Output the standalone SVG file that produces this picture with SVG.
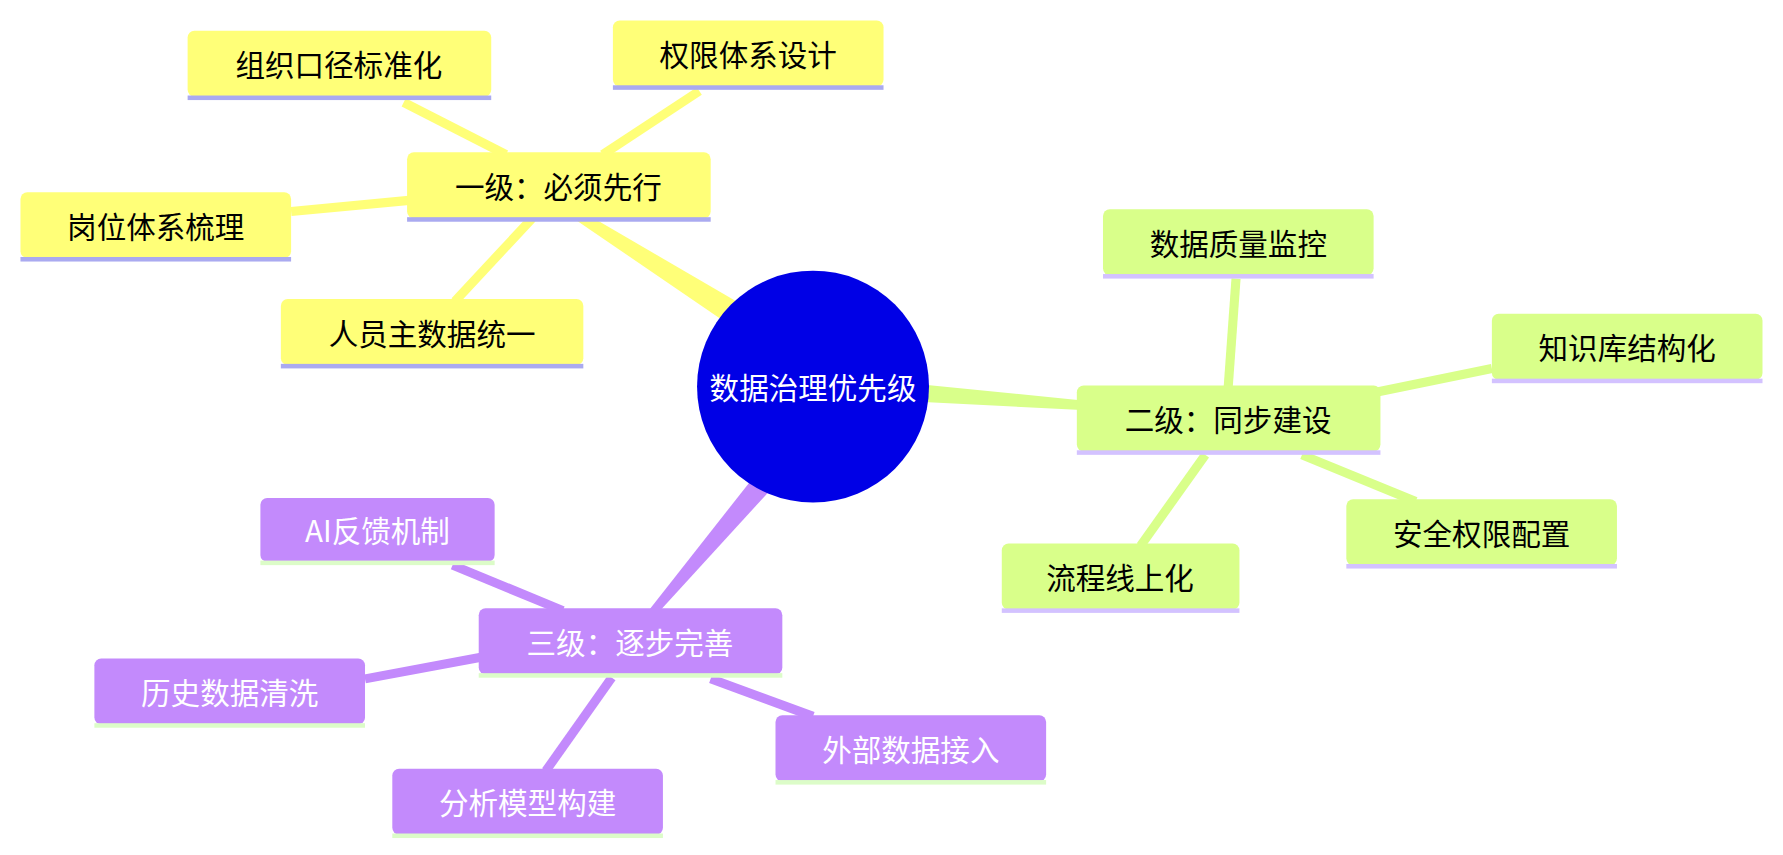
<svg xmlns="http://www.w3.org/2000/svg" width="1783" height="855" viewBox="0 0 1783 855">
<style>
text{font-family:"Noto Sans CJK SC","Liberation Sans",sans-serif;font-size:26px;text-anchor:middle;dominant-baseline:central}
.y{fill:#ffff78}.g{fill:#d9ff8a}.p{fill:#c38afc}
.uy{fill:#aaaaf0}.ug{fill:#d3c2ff}.up{fill:#dcfcc8}
.ly{stroke:#ffff78;stroke-width:8}.lg{stroke:#d9ff8a;stroke-width:8}.lp{stroke:#c38afc;stroke-width:8}
.tw{fill:#fff}
</style>
<rect width="1783" height="855" fill="#fff"/>
<g transform="scale(1.1371)">
<g id="connectors">
<polygon points="665.9,275.7 471.6,162.5 468.4,167.5 654.1,294.3" fill="#ffff78"/>
<polygon points="760,333 1000,357 1000,363 760,351" fill="#d9ff8a"/>
<polygon points="708.4,397.1 562.3,556.9 557.7,553.1 691.6,382.9" fill="#c38afc"/>
<line class="ly" x1="355" y1="90" x2="445" y2="136"/>
<line class="ly" x1="615" y1="80" x2="530" y2="136"/>
<line class="ly" x1="256" y1="186" x2="362" y2="176"/>
<line class="ly" x1="400" y1="265" x2="468" y2="192"/>
<line class="lg" x1="1087" y1="245" x2="1080" y2="342"/>
<line class="lg" x1="1312" y1="324" x2="1210" y2="345"/>
<line class="lg" x1="1245" y1="441" x2="1145" y2="400"/>
<line class="lg" x1="1003" y1="480" x2="1060" y2="400"/>
<line class="lp" x1="398" y1="497" x2="495" y2="537"/>
<line class="lp" x1="321" y1="597" x2="423" y2="578"/>
<line class="lp" x1="715" y1="630" x2="625" y2="597"/>
<line class="lp" x1="480" y1="678" x2="538" y2="596"/>
</g>
<g id="center"><circle cx="715" cy="340" r="102" fill="#0000e6"/><text x="715" y="340" class="tw">数据治理优先级</text></g>
<g id="l1"><rect class="y" x="358" y="134" width="267" height="58" rx="6"/><rect class="uy" x="358" y="191" width="267" height="4"/><text x="491" y="163">一级：必须先行</text></g>
<g id="l1a"><rect class="y" x="165" y="27" width="267" height="58" rx="6"/><rect class="uy" x="165" y="84" width="267" height="4"/><text x="298" y="56">组织口径标准化</text></g>
<g id="l1b"><rect class="y" x="539" y="18" width="238" height="58" rx="6"/><rect class="uy" x="539" y="75" width="238" height="4"/><text x="658" y="47">权限体系设计</text></g>
<g id="l1c"><rect class="y" x="18" y="169" width="238" height="58" rx="6"/><rect class="uy" x="18" y="226" width="238" height="4"/><text x="137" y="198">岗位体系梳理</text></g>
<g id="l1d"><rect class="y" x="247" y="263" width="266" height="58" rx="6"/><rect class="uy" x="247" y="320" width="266" height="4"/><text x="380" y="292">人员主数据统一</text></g>
<g id="l2"><rect class="g" x="947" y="339" width="267" height="58" rx="6"/><rect class="ug" x="947" y="396" width="267" height="4"/><text x="1080" y="368">二级：同步建设</text></g>
<g id="l2a"><rect class="g" x="970" y="184" width="238" height="58" rx="6"/><rect class="ug" x="970" y="241" width="238" height="4"/><text x="1089" y="213">数据质量监控</text></g>
<g id="l2b"><rect class="g" x="1312" y="276" width="238" height="58" rx="6"/><rect class="ug" x="1312" y="333" width="238" height="4"/><text x="1431" y="305">知识库结构化</text></g>
<g id="l2c"><rect class="g" x="1184" y="439" width="238" height="58" rx="6"/><rect class="ug" x="1184" y="496" width="238" height="4"/><text x="1303" y="468">安全权限配置</text></g>
<g id="l2d"><rect class="g" x="881" y="478" width="209" height="58" rx="6"/><rect class="ug" x="881" y="535" width="209" height="4"/><text x="985" y="507">流程线上化</text></g>
<g id="l3"><rect class="p" x="421" y="535" width="267" height="58" rx="6"/><rect class="up" x="421" y="592" width="267" height="4"/><text x="554" y="564" class="tw">三级：逐步完善</text></g>
<g id="l3a"><rect class="p" x="229" y="438" width="206" height="56" rx="6"/><rect class="up" x="229" y="493" width="206" height="4"/><text x="332" y="466" class="tw">AI反馈机制</text></g>
<g id="l3b"><rect class="p" x="83" y="579" width="238" height="58" rx="6"/><rect class="up" x="83" y="636" width="238" height="4"/><text x="202" y="608" class="tw">历史数据清洗</text></g>
<g id="l3c"><rect class="p" x="682" y="629" width="238" height="58" rx="6"/><rect class="up" x="682" y="686" width="238" height="4"/><text x="801" y="658" class="tw">外部数据接入</text></g>
<g id="l3d"><rect class="p" x="345" y="676" width="238" height="58" rx="6"/><rect class="up" x="345" y="733" width="238" height="4"/><text x="464" y="705" class="tw">分析模型构建</text></g>
</g>
</svg>
